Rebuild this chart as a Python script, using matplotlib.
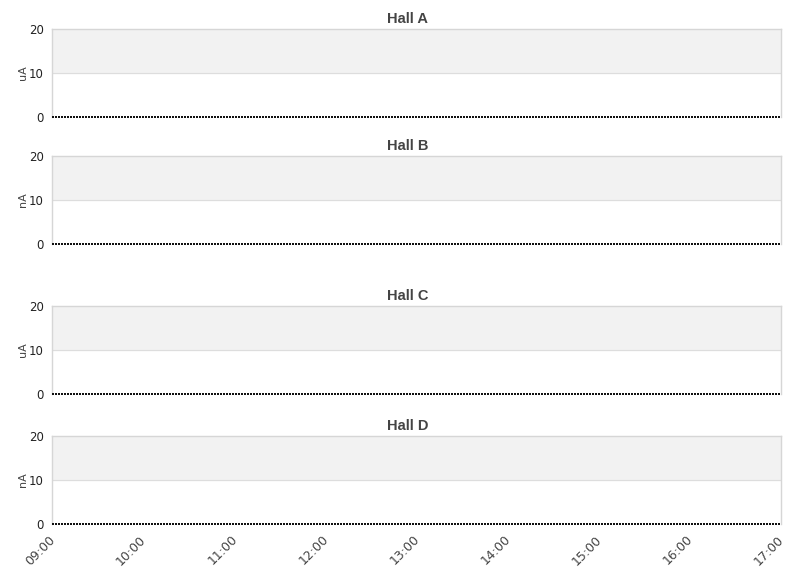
"""Beam current per hall — four stacked panels sharing a time axis."""

import matplotlib

matplotlib.use("Agg")
import matplotlib.dates as mdates
import matplotlib.pyplot as plt
import pandas as pd

halls = ["Hall A", "Hall B", "Hall C", "Hall D"]
units = ["uA", "nA", "uA", "nA"]
times = ["09:00", "10:00", "11:00", "12:00", "13:00", "14:00", "15:00", "16:00", "17:00"]
current_a = [0, 0, 0, 0, 0, 0, 0, 0, 0]
current_b = [0, 0, 0, 0, 0, 0, 0, 0, 0]
current_c = [0, 0, 0, 0, 0, 0, 0, 0, 0]
current_d = [0, 0, 0, 0, 0, 0, 0, 0, 0]
y_ticks = [0, 10, 20]

W, H = 811, 578
# panel (top, bottom) in pixels
panels = [(29, 117), (156, 244), (306, 394), (436, 524)]
LEFT, RIGHT = 52, 781

t = pd.to_datetime(["2024-01-01 " + s for s in times])
series = [current_a, current_b, current_c, current_d]

plt.rcParams["font.family"] = "DejaVu Sans"
fig = plt.figure(figsize=(W / 100, H / 100), dpi=100)

for i, (name, unit, vals, (top, bot)) in enumerate(zip(halls, units, series, panels)):
    ax = fig.add_axes([LEFT / W, 1 - bot / H, (RIGHT - LEFT) / W, (bot - top) / H])
    ax.axhspan(10, 20, color="#f2f2f2", zorder=0)
    ax.axhline(10, color="#dddddd", lw=0.8, zorder=1)
    # 1px-on / 1px-off dots, two pixels tall, no smoothing
    ax.plot(t, vals, color="#111111", lw=1.5, ls=(0, (0.5, 0.5)), zorder=3,
            clip_on=False, antialiased=False, solid_capstyle="butt", dash_capstyle="butt")
    ax.set_xlim(t[0], t[-1])
    ax.set_ylim(0, 20)
    ax.set_yticks(y_ticks)
    ax.tick_params(axis="y", length=0, labelsize=8.5, pad=6, colors="#222222")
    ax.tick_params(axis="x", length=0)
    for side in ["left", "top", "right"]:
        ax.spines[side].set_color("#d6d6d6")
        ax.spines[side].set_linewidth(1)
    ax.spines["bottom"].set_visible(False)
    ax.set_ylabel(unit, fontsize=8, color="#444444")
    ax.yaxis.set_label_coords((28 - LEFT) / (RIGHT - LEFT), 0.5)
    # titles sit centred on the figure rather than the plot area
    fig.text(408 / W, 1 - (top - 10) / H, name, ha="center", va="center",
             fontsize=10.5, fontweight="bold", color="#444444", family="Liberation Sans")
    ax.xaxis.set_major_locator(mdates.HourLocator())
    ax.xaxis.set_major_formatter(mdates.DateFormatter("%H:%M"))
    if i < len(halls) - 1:
        ax.set_xticklabels([])
    else:
        plt.setp(ax.get_xticklabels(), rotation=45, ha="right", va="center_baseline",
                 rotation_mode="anchor", fontsize=9, color="#444444")
        ax.tick_params(axis="x", pad=9)

fig.savefig("out.png", dpi=100)
